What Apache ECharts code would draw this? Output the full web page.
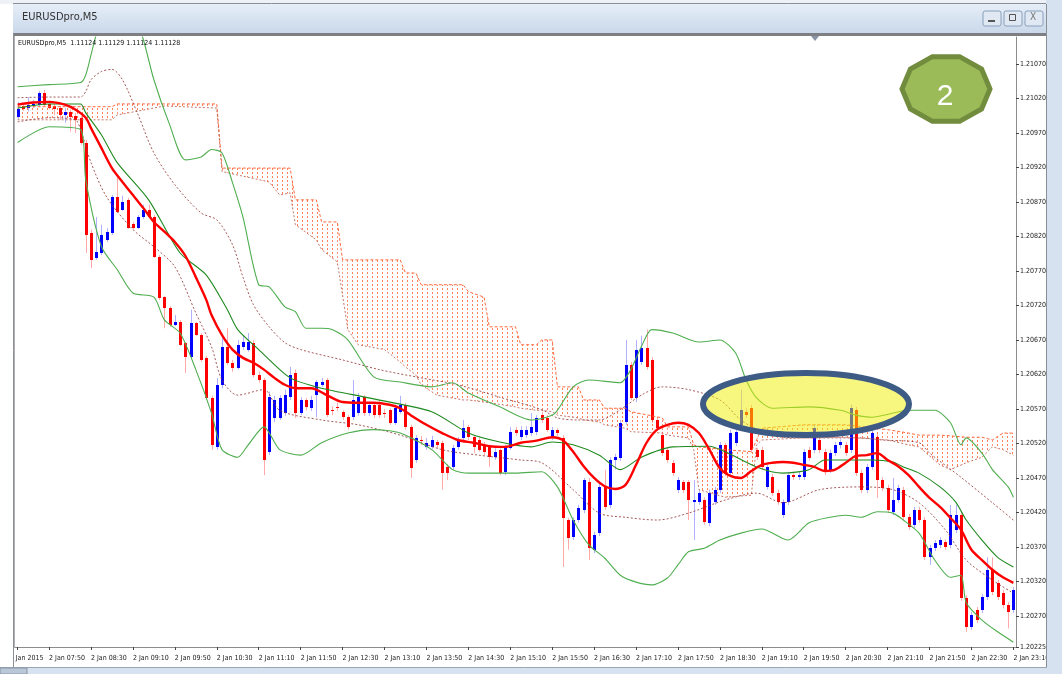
<!DOCTYPE html>
<html>
<head>
<meta charset="utf-8">
<title>EURUSDpro,M5</title>
<script src="https://cdn.jsdelivr.net/npm/echarts@6/dist/echarts.min.js"></script>
<style>
  html, body { margin: 0; padding: 0; background: #ffffff; }
  #chart { width: 1062px; height: 674px; }
</style>
</head>
<body>
<div id="chart"></div>
<script>
// EURUSDpro M5, 2 Jan 2015, 07:20 .. 23:10 (one bar every 5 minutes)
var firstBar = '07:20';
var barMinutes = 5;

var xTickLabels = ['2 Jan 2015', '2 Jan 07:50', '2 Jan 08:30', '2 Jan 09:10', '2 Jan 09:50', '2 Jan 10:30',
  '2 Jan 11:10', '2 Jan 11:50', '2 Jan 12:30', '2 Jan 13:10', '2 Jan 13:50', '2 Jan 14:30', '2 Jan 15:10',
  '2 Jan 15:50', '2 Jan 16:30', '2 Jan 17:10', '2 Jan 17:50', '2 Jan 18:30', '2 Jan 19:10', '2 Jan 19:50',
  '2 Jan 20:30', '2 Jan 21:10', '2 Jan 21:50', '2 Jan 22:30', '2 Jan 23:10'];

var priceTicks = [1.20225, 1.20270, 1.20320, 1.20370, 1.20420, 1.20470, 1.20520, 1.20570, 1.20620,
  1.20670, 1.20720, 1.20770, 1.20820, 1.20870, 1.20920, 1.20970, 1.21020, 1.21070];
var yMin = 1.20225, yMax = 1.21109;

var openP = [
  1.20993,1.21009,1.21006,1.21009,1.21011,1.21028,1.21012,1.21009,1.21006,1.20996,
  1.21001,1.20995,1.20992,1.20956,1.20825,1.20789,1.20796,1.20815,1.20825,1.20877,
  1.20859,1.20873,1.20838,1.20832,1.20848,1.20859,1.20848,1.20790,1.20732,1.20716,
  1.20692,1.20696,1.20666,1.20645,1.20695,1.20677,1.20644,1.20586,1.20515,1.20605,
  1.20660,1.20637,1.20629,1.20660,1.20656,1.20666,1.20619,1.20612,1.20508,1.20557,
  1.20557,1.20564,1.20587,1.20622,1.20564,1.20583,1.20571,1.20590,1.20605,1.20612,
  1.20568,1.20573,1.20566,1.20558,1.20558,1.20564,1.20587,1.20564,1.20576,1.20576,
  1.20564,1.20568,1.20550,1.20566,1.20576,1.20544,1.20496,1.20525,1.20515,1.20515,
  1.20522,1.20521,1.20486,1.20486,1.20515,1.20528,1.20544,1.20529,1.20525,1.20518,
  1.20515,1.20500,1.20511,1.20479,1.20513,1.20540,1.20529,1.20532,1.20535,1.20537,
  1.20561,1.20557,1.20528,1.20540,1.20528,1.20409,1.20384,1.20409,1.20424,1.20464,
  1.20366,1.20390,1.20457,1.20431,1.20496,1.20499,1.20551,1.20634,1.20586,1.20638,
  1.20658,1.20641,1.20554,1.20532,1.20511,1.20492,1.20453,1.20464,1.20464,1.20435,
  1.20435,1.20438,1.20405,1.20435,1.20453,1.20518,1.20477,1.20521,1.20547,1.20566,
  1.20571,1.20511,1.20511,1.20457,1.20471,1.20448,1.20416,1.20435,1.20474,1.20471,
  1.20471,1.20511,1.20511,1.20525,1.20508,1.20482,1.20506,1.20518,1.20518,1.20511,
  1.20568,1.20477,1.20453,1.20486,1.20529,1.20467,1.20455,1.20421,1.20438,1.20453,
  1.20413,1.20402,1.20424,1.20409,1.20355,1.20368,1.20373,1.20377,1.20373,1.20395,
  1.20416,1.20296,1.20254,1.20279,1.20279,1.20297,1.20337,1.20318,1.20303,1.20286,
  1.20279
];
var closeP = [
  1.21004,1.21005,1.21011,1.21012,1.21028,1.21011,1.21006,1.21004,1.20996,1.21001,
  1.20993,1.20988,1.20956,1.20822,1.20786,1.20798,1.20822,1.20827,1.20877,1.20856,
  1.20870,1.20832,1.20832,1.20848,1.20859,1.20848,1.20790,1.20731,1.20716,1.20692,
  1.20696,1.20663,1.20645,1.20695,1.20677,1.20641,1.20586,1.20518,1.20605,1.20660,
  1.20637,1.20629,1.20663,1.20667,1.20667,1.20619,1.20612,1.20496,1.20587,1.20583,
  1.20586,1.20590,1.20619,1.20564,1.20583,1.20573,1.20583,1.20609,1.20609,1.20561,
  1.20567,1.20571,1.20558,1.20544,1.20583,1.20587,1.20564,1.20576,1.20561,1.20561,
  1.20563,1.20550,1.20571,1.20576,1.20544,1.20484,1.20528,1.20524,1.20521,1.20525,
  1.20518,1.20477,1.20477,1.20513,1.20525,1.20542,1.20529,1.20515,1.20511,1.20508,
  1.20500,1.20508,1.20477,1.20515,1.20537,1.20535,1.20540,1.20540,1.20544,1.20557,
  1.20554,1.20540,1.20540,1.20535,1.20412,1.20383,1.20409,1.20426,1.20467,1.20368,
  1.20387,1.20457,1.20428,1.20496,1.20500,1.20550,1.20634,1.20586,1.20656,1.20658,
  1.20631,1.20554,1.20542,1.20506,1.20496,1.20477,1.20467,1.20453,1.20438,1.20438,
  1.20448,1.20406,1.20448,1.20453,1.20518,1.20477,1.20535,1.20537,1.20568,1.20561,
  1.20511,1.20500,1.20486,1.20486,1.20448,1.20435,1.20435,1.20474,1.20471,1.20474,
  1.20508,1.20499,1.20542,1.20511,1.20479,1.20506,1.20518,1.20522,1.20506,1.20571,
  1.20477,1.20453,1.20486,1.20535,1.20467,1.20455,1.20424,1.20438,1.20455,1.20413,
  1.20399,1.20424,1.20409,1.20355,1.20368,1.20376,1.20380,1.20370,1.20416,1.20416,
  1.20296,1.20254,1.20271,1.20264,1.20297,1.20337,1.20305,1.20297,1.20286,1.20276,
  1.20308
];
var lowP = [
  1.20990,1.21002,1.21001,1.21006,1.21008,1.21009,1.21004,1.20996,1.20989,1.20985,
  1.20972,1.20970,1.20953,1.20796,1.20774,1.20786,1.20793,1.20812,1.20822,1.20854,
  1.20857,1.20831,1.20830,1.20831,1.20845,1.20847,1.20789,1.20728,1.20687,1.20689,
  1.20690,1.20661,1.20622,1.20644,1.20676,1.20638,1.20583,1.20511,1.20511,1.20600,
  1.20634,1.20624,1.20627,1.20656,1.20653,1.20616,1.20608,1.20474,1.20503,1.20551,
  1.20554,1.20560,1.20583,1.20557,1.20561,1.20568,1.20567,1.20558,1.20602,1.20558,
  1.20561,1.20567,1.20554,1.20540,1.20554,1.20560,1.20560,1.20560,1.20557,1.20557,
  1.20557,1.20547,1.20547,1.20563,1.20540,1.20470,1.20492,1.20518,1.20511,1.20512,
  1.20513,1.20453,1.20467,1.20482,1.20511,1.20525,1.20525,1.20506,1.20508,1.20503,
  1.20486,1.20496,1.20474,1.20474,1.20511,1.20531,1.20525,1.20528,1.20531,1.20532,
  1.20550,1.20537,1.20525,1.20531,1.20341,1.20366,1.20380,1.20405,1.20419,1.20351,
  1.20361,1.20386,1.20424,1.20426,1.20482,1.20495,1.20547,1.20583,1.20580,1.20634,
  1.20627,1.20550,1.20538,1.20502,1.20492,1.20473,1.20448,1.20448,1.20409,1.20380,
  1.20431,1.20402,1.20400,1.20431,1.20448,1.20473,1.20473,1.20516,1.20542,1.20557,
  1.20506,1.20496,1.20482,1.20453,1.20444,1.20431,1.20412,1.20431,1.20467,1.20467,
  1.20467,1.20495,1.20506,1.20506,1.20474,1.20477,1.20502,1.20513,1.20502,1.20506,
  1.20473,1.20448,1.20448,1.20482,1.20441,1.20451,1.20419,1.20416,1.20434,1.20409,
  1.20395,1.20397,1.20405,1.20351,1.20344,1.20364,1.20368,1.20366,1.20368,1.20390,
  1.20292,1.20247,1.20250,1.20260,1.20274,1.20293,1.20300,1.20293,1.20281,1.20252,
  1.20274
];
var highP = [
  1.21015,1.21012,1.21022,1.21018,1.21031,1.21032,1.21015,1.21012,1.21009,1.21006,
  1.21004,1.20999,1.20995,1.20960,1.20830,1.20848,1.20837,1.20832,1.20880,1.20905,
  1.20879,1.20876,1.20841,1.20851,1.20866,1.20866,1.20851,1.20793,1.20734,1.20719,
  1.20706,1.20699,1.20667,1.20714,1.20696,1.20680,1.20647,1.20589,1.20615,1.20677,
  1.20687,1.20641,1.20670,1.20676,1.20680,1.20670,1.20624,1.20615,1.20595,1.20589,
  1.20590,1.20598,1.20631,1.20627,1.20587,1.20586,1.20589,1.20612,1.20615,1.20615,
  1.20574,1.20579,1.20568,1.20561,1.20612,1.20593,1.20590,1.20580,1.20580,1.20583,
  1.20570,1.20571,1.20576,1.20589,1.20579,1.20547,1.20532,1.20531,1.20528,1.20531,
  1.20525,1.20524,1.20490,1.20518,1.20529,1.20554,1.20547,1.20532,1.20529,1.20522,
  1.20518,1.20513,1.20513,1.20518,1.20544,1.20544,1.20545,1.20545,1.20564,1.20561,
  1.20566,1.20561,1.20544,1.20542,1.20532,1.20412,1.20413,1.20431,1.20470,1.20470,
  1.20392,1.20461,1.20482,1.20500,1.20505,1.20554,1.20670,1.20638,1.20670,1.20676,
  1.20685,1.20645,1.20557,1.20537,1.20513,1.20496,1.20471,1.20467,1.20467,1.20467,
  1.20453,1.20442,1.20453,1.20457,1.20522,1.20521,1.20540,1.20540,1.20598,1.20571,
  1.20576,1.20513,1.20515,1.20489,1.20476,1.20453,1.20439,1.20479,1.20479,1.20479,
  1.20512,1.20515,1.20547,1.20529,1.20512,1.20511,1.20522,1.20526,1.20522,1.20576,
  1.20573,1.20482,1.20490,1.20540,1.20534,1.20471,1.20460,1.20470,1.20460,1.20457,
  1.20418,1.20428,1.20428,1.20413,1.20373,1.20380,1.20384,1.20381,1.20431,1.20431,
  1.20421,1.20300,1.20276,1.20283,1.20302,1.20355,1.20355,1.20322,1.20308,1.20290,
  1.20312
];

// indicator lines, read as [bar index, price]
var maLine = [[0,1.21011],[3,1.21014],[6,1.21015],[9,1.21011],[11,1.21004],[13,1.20992],[14,1.20977],[16,1.20948],
  [18,1.20919],[20,1.20899],[22,1.20880],[24,1.20861],[26,1.20841],[28,1.20827],[30,1.20812],[32,1.20792],[34,1.20761],
  [36,1.20728],[37,1.20706],[39,1.20677],[41,1.20656],[43,1.20644],[45,1.20637],[47,1.20627],[49,1.20615],[51,1.20605],
  [53,1.20600],[56,1.20600],[59,1.20590],[62,1.20580],[65,1.20579],[68,1.20579],[71,1.20576],[73,1.20571],[75,1.20561],
  [78,1.20547],[81,1.20535],[84,1.20525],[87,1.20521],[90,1.20516],[93,1.20515],[96,1.20521],[99,1.20524],[102,1.20529],
  [104,1.20525],[106,1.20508],[108,1.20487],[110,1.20470],[112,1.20458],[114,1.20454],[116,1.20460],[118,1.20489],
  [120,1.20521],[122,1.20540],[124,1.20547],[126,1.20550],[128,1.20547],[130,1.20535],[132,1.20511],[134,1.20484],
  [136,1.20473],[138,1.20470],[140,1.20480],[142,1.20489],[144,1.20492],[146,1.20493],[148,1.20492],[150,1.20489],
  [152,1.20486],[154,1.20480],[156,1.20482],[158,1.20492],[160,1.20502],[162,1.20503],[164,1.20506],[166,1.20496],
  [168,1.20487],[170,1.20474],[172,1.20457],[174,1.20441],[176,1.20428],[178,1.20412],[180,1.20395],[182,1.20366],
  [184,1.20351],[186,1.20337],[188,1.20326],[190,1.20318]];

var bandMid = [[0,1.21006],[6,1.21012],[12,1.21012],[13,1.20999],[16,1.20967],[19,1.20927],[25,1.20873],[31,1.20796],
  [36,1.20764],[40,1.20714],[42,1.20685],[46,1.20656],[52,1.20615],[58,1.20600],[67,1.20586],[79,1.20566],[86,1.20535],
  [92,1.20522],[98,1.20515],[102,1.20522],[106,1.20518],[111,1.20503],[115,1.20482],[119,1.20500],[125,1.20515],
  [132,1.20516],[135,1.20508],[141,1.20486],[146,1.20477],[151,1.20482],[154,1.20496],[158,1.20496],[163,1.20496],
  [167,1.20493],[169,1.20486],[172,1.20477],[176,1.20457],[179,1.20435],[181,1.20409],[184,1.20380],[187,1.20355],
  [190,1.20341]];

var bandUpper = [[0,1.21037],[6,1.21040],[12,1.21043],[13,1.21054],[14,1.21083],[15,1.21112],[17,1.21148],[19,1.21170],
  [20,1.21170],[22,1.21148],[24,1.21105],[26,1.21047],[29,1.20982],[32,1.20931],[35,1.20935],[37,1.20946],[39,1.20941],
  [41,1.20898],[43,1.20848],[46,1.20750],[48,1.20747],[51,1.20718],[53,1.20711],[55,1.20687],[58,1.20687],[60,1.20685],
  [63,1.20670],[68,1.20616],[73,1.20609],[79,1.20602],[83,1.20608],[86,1.20593],[92,1.20573],[98,1.20554],[102,1.20561],
  [103,1.20568],[106,1.20602],[109,1.20612],[115,1.20608],[117,1.20627],[119,1.20660],[121,1.20685],[125,1.20680],
  [130,1.20667],[134,1.20670],[137,1.20651],[139,1.20612],[141,1.20586],[144,1.20571],[151,1.20573],[157,1.20568],
  [160,1.20561],[163,1.20558],[170,1.20568],[175,1.20568],[178,1.20550],[180,1.20518],[181,1.20528],[184,1.20506],
  [186,1.20482],[189,1.20457],[190,1.20442]];

var bandLower = [[0,1.20956],[6,1.20979],[12,1.20975],[13,1.20902],[16,1.20805],[19,1.20772],[22,1.20738],[26,1.20732],
  [28,1.20699],[31,1.20680],[34,1.20627],[37,1.20564],[39,1.20511],[42,1.20500],[44,1.20518],[47,1.20544],[50,1.20511],
  [54,1.20503],[58,1.20521],[63,1.20535],[68,1.20540],[73,1.20535],[79,1.20511],[83,1.20482],[86,1.20477],[95,1.20477],
  [100,1.20479],[103,1.20457],[106,1.20409],[109,1.20373],[112,1.20354],[115,1.20329],[118,1.20319],[121,1.20315],
  [124,1.20325],[126,1.20344],[128,1.20363],[131,1.20368],[134,1.20380],[138,1.20390],[142,1.20396],[147,1.20380],
  [151,1.20405],[155,1.20413],[158,1.20416],[161,1.20413],[164,1.20421],[167,1.20419],[169,1.20409],[172,1.20390],
  [175,1.20351],[178,1.20326],[180,1.20329],[181,1.20289],[184,1.20264],[187,1.20247],[190,1.20232]];

var innerUpper = [[0,1.21021],[6,1.21022],[12,1.21022],[13,1.21030],[14,1.21047],[16,1.21059],[18,1.21062],[20,1.21047],
  [23,1.20996],[26,1.20941],[30,1.20895],[35,1.20854],[38,1.20844],[41,1.20808],[43,1.20761],[45,1.20721],[48,1.20689],
  [51,1.20666],[54,1.20656],[62,1.20641],[69,1.20627],[77,1.20615],[84,1.20605],[92,1.20587],[100,1.20569],[103,1.20557],
  [107,1.20554],[111,1.20554],[115,1.20569],[119,1.20590],[123,1.20602],[128,1.20598],[134,1.20583],[138,1.20554],
  [142,1.20537],[146,1.20529],[153,1.20528],[161,1.20528],[165,1.20525],[172,1.20521],[174,1.20506],[180,1.20471],
  [186,1.20434],[190,1.20409]];

var innerLower = [[0,1.20986],[6,1.20992],[11,1.20989],[12,1.20975],[14,1.20927],[17,1.20877],[22,1.20830],[26,1.20805],
  [30,1.20776],[34,1.20709],[37,1.20660],[39,1.20612],[42,1.20590],[47,1.20598],[50,1.20568],[58,1.20554],[65,1.20547],
  [73,1.20532],[81,1.20511],[88,1.20503],[96,1.20496],[100,1.20492],[106,1.20453],[111,1.20419],[116,1.20413],
  [122,1.20409],[128,1.20419],[135,1.20438],[141,1.20448],[146,1.20434],[153,1.20453],[161,1.20457],[167,1.20453],
  [172,1.20434],[177,1.20395],[181,1.20351],[186,1.20322],[190,1.20303]];

// cloud: [bar index, span A, span B]
var cloudKnots = [[0,1.21008,1.20989],[18,1.21008,1.20989],[19,1.21012,1.20996],[28,1.21012,1.21009],[38,1.21012,1.21006],
  [39,1.20919,1.20914],[48,1.20919,1.20899],[50,1.20919,1.20880],[52,1.20919,1.20883],[53,1.20873,1.20837],[57,1.20873,1.20815],
  [58,1.20841,1.20801],[61,1.20841,1.20783],[62,1.20786,1.20735],[63,1.20786,1.20685],[65,1.20786,1.20663],[70,1.20786,1.20656],
  [73,1.20786,1.20638],[74,1.20767,1.20631],[76,1.20767,1.20619],[77,1.20750,1.20605],[80,1.20750,1.20590],[85,1.20750,1.20583],
  [86,1.20740,1.20583],[89,1.20732,1.20580],[90,1.20689,1.20579],[95,1.20689,1.20573],[96,1.20663,1.20571],[99,1.20663,1.20568],
  [100,1.20670,1.20568],[102,1.20670,1.20566],[103,1.20602,1.20561],[107,1.20602,1.20557],[108,1.20583,1.20554],
  [111,1.20583,1.20551],[112,1.20571,1.20547],[116,1.20571,1.20542],[117,1.20566,1.20537],[123,1.20557,1.20535],
  [124,1.20544,1.20532],[128,1.20544,1.20528],[129,1.20518,1.20511],[130,1.20515,1.20453],[135,1.20511,1.20442],
  [140,1.20508,1.20445],[141,1.20525,1.20518],[142,1.20542,1.20525],[150,1.20547,1.20528],[158,1.20547,1.20529],
  [166,1.20540,1.20525],[170,1.20535,1.20518],[172,1.20532,1.20515],[176,1.20532,1.20489],[178,1.20531,1.20482],
  [181,1.20529,1.20492],[184,1.20529,1.20500],[186,1.20525,1.20515],[188,1.20535,1.20511],[190,1.20535,1.20503]];

var FONT = '"DejaVu Sans Condensed", "DejaVu Sans", sans-serif';

function pad(n) { return (n < 10 ? '0' : '') + n; }
var times = [];
var t0 = parseInt(firstBar.slice(0, 2), 10) * 60 + parseInt(firstBar.slice(3), 10);
for (var i = 0; i < openP.length; i++) {
  var m = t0 + i * barMinutes;
  times.push(pad(Math.floor(m / 60)) + ':' + pad(m % 60));
}
function isTimeTick(i) { return i >= 6 && (i - 6) % 8 === 0; }
function isDateTick(i) { return i === 0; }

var candleData = openP.map(function (o, i) { return [i, o, closeP[i], lowP[i], highP[i]]; });
var cloudSegs = [];
for (var k = 0; k < cloudKnots.length - 1; k++) {
  var s = cloudKnots[k], e = cloudKnots[k + 1];
  cloudSegs.push([s[0], s[1], s[2], e[0], e[1], e[2]]);
}

// vertical dotted hatch, like the terminal's cloud fill
var hatch = document.createElement('canvas');
hatch.width = 5; hatch.height = 4;
var hctx = hatch.getContext('2d');
hctx.fillStyle = 'rgba(255,120,80,0.95)';
hctx.fillRect(2, 0, 1, 2);

var myChart = echarts.init(document.getElementById('chart'));

function lineSeries(name, data, color, width, type, z, smooth) {
  return {
    name: name, type: 'line', data: data, showSymbol: false, symbol: 'none', silent: true,
    smooth: smooth || false, z: z, clip: true,
    lineStyle: { color: color, width: width, type: type }
  };
}

// decagon badge points
var badge = [];
for (var d = 0; d < 10; d++) {
  var ang = d * Math.PI / 5;
  badge.push([946 + 44 * Math.cos(ang), 89 - 34 * Math.sin(ang)]);
}

var labelStyle = { margin: 8, fontSize: 7, fontFamily: FONT, color: '#222' };

var option = {
  animation: false,
  backgroundColor: '#ffffff',
  grid: { left: 15, right: 46, top: 37, bottom: 27 },
  xAxis: [
    {
      type: 'category', data: times, boundaryGap: true,
      axisLine: { show: true, lineStyle: { color: '#8c8c8c', width: 1 } },
      axisTick: { show: true, interval: isTimeTick, alignWithLabel: true, length: 3, lineStyle: { color: '#444' } },
      axisLabel: Object.assign({
        interval: isTimeTick, showMinLabel: true, showMaxLabel: true, align: 'left',
        formatter: function (v, i) { return xTickLabels[(i - 6) / 8 + 1]; }
      }, labelStyle),
      splitLine: { show: false }
    },
    {
      // the first bar carries the date; its left part sits behind the window edge
      type: 'category', data: times, boundaryGap: true, position: 'bottom',
      axisLine: { show: false },
      axisTick: { show: true, interval: isDateTick, alignWithLabel: true, length: 3, lineStyle: { color: '#444' } },
      axisLabel: Object.assign({
        interval: isDateTick, showMinLabel: true, showMaxLabel: false, align: 'center',
        formatter: function () { return '{d|' + xTickLabels[0] + '}'; },
        rich: { d: { padding: [0, 0, 0, 18], fontSize: 7, fontFamily: FONT, color: '#222' } }
      }, labelStyle),
      splitLine: { show: false }
    }
  ],
  yAxis: {
    type: 'value', position: 'right', min: yMin, max: yMax,
    splitLine: { show: false },
    axisLine: { show: true, lineStyle: { color: '#8c8c8c' } },
    axisTick: { show: true, length: 3, customValues: priceTicks, lineStyle: { color: '#444' } },
    axisLabel: {
      customValues: priceTicks, margin: 4, fontSize: 7, fontFamily: FONT, color: '#222',
      formatter: function (v) { return v.toFixed(5); }
    }
  },
  series: [
    {
      name: 'cloud', type: 'custom', data: cloudSegs, silent: true, z: 1, clip: true,
      encode: { x: [0, 3], y: [1, 2, 4, 5] },
      renderItem: function (params, api) {
        var a = api.coord([api.value(0), api.value(1)]);
        var b = api.coord([api.value(3), api.value(4)]);
        var c = api.coord([api.value(3), api.value(5)]);
        var dd = api.coord([api.value(0), api.value(2)]);
        return { type: 'polygon', shape: { points: [a, b, c, dd] },
          style: { fill: { image: hatch, repeat: 'repeat' }, stroke: null } };
      }
    },
    {
      name: 'EURUSDpro,M5', type: 'custom', data: candleData, silent: true, z: 2, clip: true,
      encode: { x: 0, y: [1, 2, 3, 4] },
      renderItem: function (params, api) {
        var i = api.value(0), o = api.value(1), c = api.value(2), l = api.value(3), h = api.value(4);
        var pO = api.coord([i, o]), pC = api.coord([i, c]), pL = api.coord([i, l]), pH = api.coord([i, h]);
        var cx = Math.round(pO[0]);
        var body, wick;
        if (c > o) { body = '#0000ff'; wick = 'rgba(60,60,255,0.4)'; }
        else if (c < o) { body = '#ff0000'; wick = 'rgba(255,40,40,0.4)'; }
        else { body = '#333333'; wick = 'rgba(40,40,40,0.6)'; }
        var top = Math.round(Math.min(pO[1], pC[1])), bot = Math.round(Math.max(pO[1], pC[1]));
        return {
          type: 'group', children: [
            { type: 'line', shape: { x1: cx + 0.5, y1: pH[1], x2: cx + 0.5, y2: pL[1] }, style: { stroke: wick, lineWidth: 1 } },
            { type: 'rect', shape: { x: cx - 1, y: top, width: 3, height: Math.max(bot - top, 1) }, style: { fill: body } }
          ]
        };
      }
    },
    lineSeries('span A', cloudKnots.map(function (r) { return [r[0], r[1]]; }), '#ff6a3d', 1, [3, 2], 3, false),
    lineSeries('span B', cloudKnots.map(function (r) { return [r[0], r[2]]; }), 'rgba(190,105,90,0.9)', 1, [2, 2], 3, false),
    lineSeries('band +1', innerUpper, 'rgba(150,60,60,0.85)', 1, [2, 2], 3, 0.3),
    lineSeries('band -1', innerLower, 'rgba(150,60,60,0.85)', 1, [2, 2], 3, 0.3),
    lineSeries('band upper', bandUpper, '#4fae4f', 1.1, 'solid', 4, 0.25),
    lineSeries('band middle', bandMid, '#1f8a1f', 1.1, 'solid', 4, 0.25),
    lineSeries('band lower', bandLower, '#4fae4f', 1.1, 'solid', 4, 0.25),
    lineSeries('moving average', maLine, '#ff0000', 2.4, 'solid', 5, 0.3)
  ],
  graphic: {
    elements: [
      // window frame
      { type: 'rect', z: 100, shape: { x: 0, y: 0, width: 1062, height: 4 }, style: { fill: '#eef1f5' } },
      { type: 'rect', z: 100, shape: { x: 13, y: 4, width: 1034, height: 29 },
        style: { fill: new echarts.graphic.LinearGradient(0, 0, 0, 1, [
          { offset: 0, color: '#e6eef8' }, { offset: 1, color: '#c9d8ea' }]) } },
      { type: 'line', z: 100, shape: { x1: 13, y1: 3.5, x2: 1047, y2: 3.5 }, style: { stroke: '#8a8f96', lineWidth: 1 } },
      { type: 'rect', z: 100, shape: { x: 13, y: 33, width: 1034, height: 3 }, style: { fill: '#7d7f83' } },
      { type: 'text', z: 101, x: 22, y: 12, style: { text: 'EURUSDpro,M5', fontSize: 11, fontFamily: FONT, fill: '#333' } },
      { type: 'rect', z: 101, shape: { x: 983, y: 11, width: 18, height: 15, r: 2 },
        style: { fill: '#dfe8f3', stroke: '#8aa0bb', lineWidth: 1 } },
      { type: 'rect', z: 101, shape: { x: 988, y: 20, width: 7, height: 2 }, style: { fill: '#555' } },
      { type: 'rect', z: 101, shape: { x: 1004, y: 11, width: 18, height: 15, r: 2 },
        style: { fill: '#dfe8f3', stroke: '#8aa0bb', lineWidth: 1 } },
      { type: 'rect', z: 101, shape: { x: 1009.5, y: 14.5, width: 6, height: 6 }, style: { fill: 'none', stroke: '#555', lineWidth: 1 } },
      { type: 'rect', z: 101, shape: { x: 1025, y: 11, width: 18, height: 15, r: 2 },
        style: { fill: '#dfe8f3', stroke: '#8aa0bb', lineWidth: 1 } },
      { type: 'text', z: 102, x: 1030, y: 12, style: { text: 'X', fontSize: 10, fontFamily: FONT, fill: '#777' } },
      // left neighbour strip and border
      { type: 'rect', z: 100, shape: { x: 0, y: 4, width: 13, height: 664 }, style: { fill: '#ffffff' } },
      { type: 'line', z: 100, shape: { x1: 13.5, y1: 33, x2: 13.5, y2: 668 }, style: { stroke: '#8a8f96', lineWidth: 1 } },
      { type: 'line', z: 100, shape: { x1: 14.5, y1: 36, x2: 14.5, y2: 648 }, style: { stroke: '#b0b0b0', lineWidth: 1 } },
      // right and bottom frame
      { type: 'rect', z: 100, shape: { x: 1046, y: 0, width: 16, height: 674 }, style: { fill: '#d6e2f0' } },
      { type: 'line', z: 100, shape: { x1: 1046.5, y1: 4, x2: 1046.5, y2: 668 }, style: { stroke: '#8a8f96', lineWidth: 1 } },
      { type: 'rect', z: 100, shape: { x: 0, y: 668, width: 1062, height: 6 }, style: { fill: '#d6e2f0' } },
      { type: 'line', z: 100, shape: { x1: 0, y1: 667.5, x2: 1047, y2: 667.5 }, style: { stroke: '#9aa6b4', lineWidth: 1 } },
      { type: 'rect', z: 100, shape: { x: 0, y: 668, width: 27, height: 6 }, style: { fill: '#b9c7d8', stroke: '#8a96a6', lineWidth: 1 } },
      // chart info line and shift marker
      { type: 'text', z: 101, x: 18, y: 40, style: { text: 'EURUSDpro,M5  1.11124 1.11129 1.11124 1.11128', fontSize: 7, fontFamily: FONT, fill: '#111' } },
      { type: 'polygon', z: 101, shape: { points: [[811, 36], [819, 36], [815, 41]] }, style: { fill: '#8995a6' } },
      // annotations
      { type: 'ellipse', z: 110, shape: { cx: 806, cy: 404, rx: 103, ry: 31 },
        style: { fill: 'rgba(240,240,0,0.5)', stroke: '#3d5b84', lineWidth: 6 } },
      { type: 'polygon', z: 110, shape: { points: badge }, style: { fill: '#9bbb59', stroke: '#728c3e', lineWidth: 5 } },
      { type: 'text', z: 111, x: 945, y: 97, style: { text: '2', fontSize: 30, fontFamily: '"Liberation Sans", Arial, sans-serif',
        fill: '#ffffff', align: 'center', verticalAlign: 'middle' } }
    ]
  }
};

myChart.setOption(option);
window.addEventListener('resize', function () { myChart.resize(); });
</script>
</body>
</html>
